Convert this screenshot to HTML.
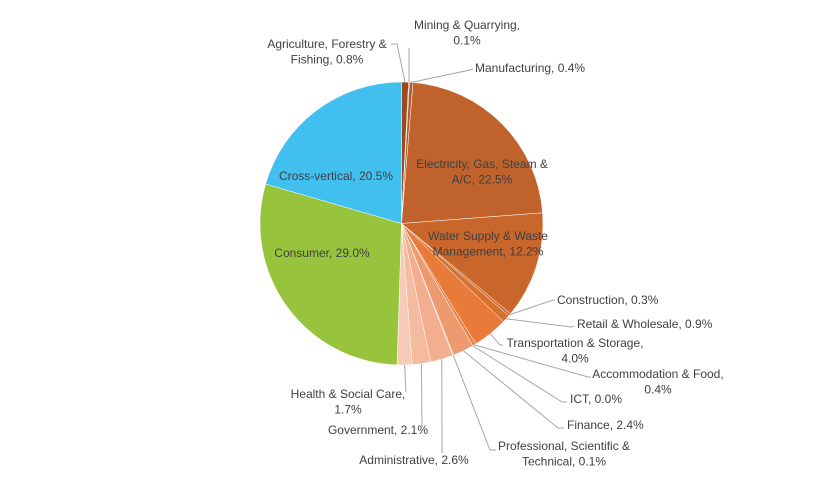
<!DOCTYPE html>
<html><head><meta charset="utf-8"><style>
html,body{margin:0;padding:0;background:#fff;}
svg{display:block;font-family:"Liberation Sans",sans-serif;}
text{font-size:12px;fill:#404040;}
</style></head><body>
<svg id="chart" width="813" height="501" viewBox="0 0 813 501"></svg>
<script>
const categories=["Agriculture, Forestry & Fishing","Mining & Quarrying","Manufacturing","Electricity, Gas, Steam & A/C","Water Supply & Waste Management","Construction","Retail & Wholesale","Transportation & Storage","Accommodation & Food","ICT","Finance","Professional, Scientific & Technical","Administrative","Government","Health & Social Care","Consumer","Cross-vertical"];
const values=[0.8,0.1,0.4,22.5,12.2,0.3,0.9,4.0,0.4,0.0,2.4,0.1,2.6,2.1,1.7,29.0,20.5];
const colors=["#9a4a1e","#b0582a","#b85c2a","#c0622b","#c8662c","#d06b2e","#d87030","#e87a3a","#ea8040","#eb8545","#ee9a70","#f0a47e","#f2ae8e","#f4bba0","#f7cbb7","#98c33c","#41bfef"];
// label lines: [line1,line2], text anchor x,y, anchor-type, elbow point, end point
const labels=[
 [["Agriculture, Forestry &","Fishing, 0.8%"],327,44,"middle",[397,44],[391,44],"out"],
 [["Mining & Quarrying,","0.1%"],467,25,"middle",[409,48],[409,48],"out"],
 [["Manufacturing, 0.4%"],475,68,"start",[470,70],[473,69],"out"],
 [["Electricity, Gas, Steam &","A/C, 22.5%"],482,164,"middle",null,null,"in"],
 [["Water Supply & Waste","Management, 12.2%"],488,236,"middle",null,null,"in"],
 [["Construction, 0.3%"],557,300,"start",[553,300],[555,300],"out"],
 [["Retail & Wholesale, 0.9%"],577,324,"start",[571,327],[574,326],"out"],
 [["Transportation & Storage,","4.0%"],575,343,"middle",[500,345],[503,345],"out"],
 [["Accommodation & Food,","0.4%"],658,374,"middle",[588,377],[591,377],"out"],
 [["ICT, 0.0%"],570,399,"start",[562,402],[567,402],"out"],
 [["Finance, 2.4%"],567,425,"start",[558,428],[564,428],"out"],
 [["Professional, Scientific &","Technical, 0.1%"],564,446,"middle",[490,450],[496,450],"out"],
 [["Administrative, 2.6%"],414,460,"middle",[442,453],[442,453],"out"],
 [["Government, 2.1%"],378,430,"middle",[422,427],[422,427],"out"],
 [["Health & Social Care,","1.7%"],348,394,"middle",[406,392],[406,392],"out"],
 [["Consumer, 29.0%"],322,253,"middle",null,null,"in"],
 [["Cross-vertical, 20.5%"],336,176,"middle",null,null,"in"]
];
const cx=401.5,cy=223.5,R=141.5;
const svg=document.getElementById('chart');
const NS="http://www.w3.org/2000/svg";
const total=values.reduce((a,b)=>a+b,0);
function pt(a,r){return [cx+r*Math.sin(a),cy-r*Math.cos(a)];}
let acc=0;
const mids=[];
values.forEach((v,i)=>{
  const a0=acc/total*2*Math.PI; acc+=v; const a1=acc/total*2*Math.PI;
  mids.push((a0+a1)/2);
  const p0=pt(a0,R),p1=pt(a1,R);
  const large=(a1-a0)>Math.PI?1:0;
  const path=document.createElementNS(NS,'path');
  path.setAttribute('d',`M${cx},${cy}L${p0[0]},${p0[1]}A${R},${R} 0 ${large} 1 ${p1[0]},${p1[1]}Z`);
  path.setAttribute('fill',colors[i]);
  path.setAttribute('stroke','#fff');
  path.setAttribute('stroke-width','0.5');
  
  
  svg.appendChild(path);
});
labels.forEach((L,i)=>{
  const [lines,x,y,anchor,elbow,end,type]=L;
  if(type==="out"){
    const s=pt(mids[i],R);
    const pl=document.createElementNS(NS,'polyline');
    pl.setAttribute('points',`${s[0]},${s[1]} ${elbow[0]},${elbow[1]} ${end[0]},${end[1]}`);
    pl.setAttribute('fill','none');pl.setAttribute('stroke','#a6a6a6');pl.setAttribute('stroke-width','1');
    
    
    svg.appendChild(pl);
  }
  const t=document.createElementNS(NS,'text');
  t.setAttribute('text-anchor',anchor);
  
  
  lines.forEach((ln,j)=>{
    const ts=document.createElementNS(NS,'tspan');
    let tx=x;
    if(j===1&&anchor==="start"){tx=x;}
    ts.setAttribute('x',tx);ts.setAttribute('y',y+4+j*15.5);
    ts.textContent=ln;t.appendChild(ts);
  });
  svg.appendChild(t);
});
</script>
</body></html>
